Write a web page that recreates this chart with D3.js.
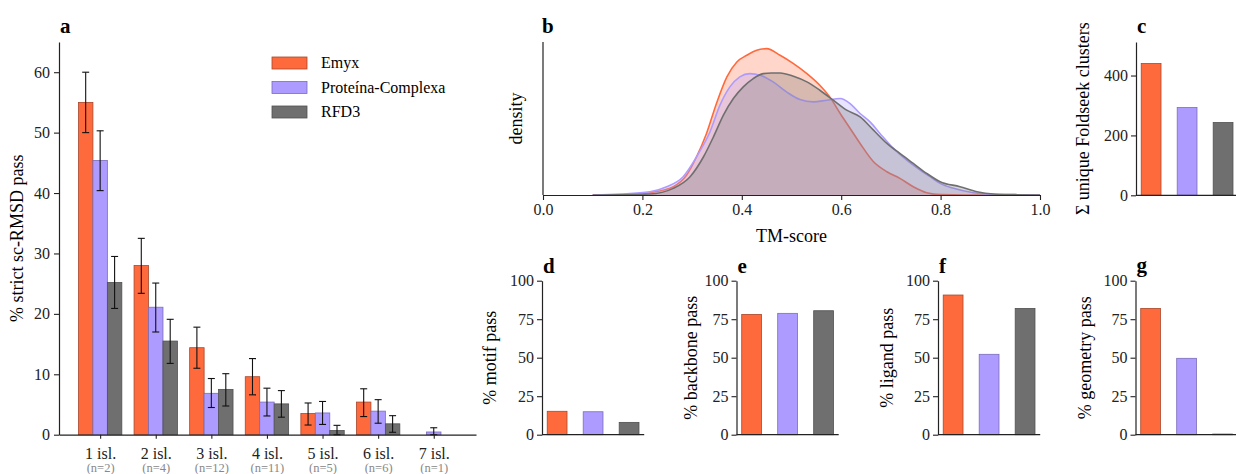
<!DOCTYPE html>
<html>
<head>
<meta charset="utf-8">
<script src="https://cdn.jsdelivr.net/npm/d3@7"></script>
<style>
  body { margin: 0; background: #fff; }
  svg, svg text { font-family: "Liberation Serif", "DejaVu Serif", "Noto Serif", "Times New Roman", serif !important; }
</style>
</head>
<body>
<svg id="chart" width="1236" height="474"></svg>
<script>
// ---- data ----
const methods = ['Emyx', 'Proteína-Complexa', 'RFD3'];
const islands = ['1 isl.', '2 isl.', '3 isl.', '4 isl.', '5 isl.', '6 isl.', '7 isl.'];
const islandCounts = ['(n=2)', '(n=4)', '(n=12)', '(n=11)', '(n=5)', '(n=6)', '(n=1)'];

const emyxPass = [55.0, 28.0, 14.4, 9.6, 3.5, 5.4, 0];
const emyxLow = [50.0, 23.4, 11.0, 6.6, 1.6, 3.0, 0];
const emyxHigh = [60.0, 32.5, 17.8, 12.6, 5.25, 7.6, 0];
const complexaPass = [45.4, 21.1, 6.85, 5.4, 3.6, 3.9, 0.45];
const complexaLow = [40.4, 17.0, 4.5, 3.1, 1.7, 1.9, 0];
const complexaHigh = [50.3, 25.1, 9.3, 7.7, 5.5, 5.8, 1.15];
const rfd3Pass = [25.2, 15.5, 7.5, 5.1, 0.7, 1.8, 0];
const rfd3Low = [20.9, 11.8, 4.75, 2.9, 0, 0.4, 0];
const rfd3High = [29.5, 19.1, 10.1, 7.3, 1.55, 3.15, 0];

// TM-score density curves
const emyxTM = [0.1, 0.15, 0.2, 0.215, 0.262, 0.289, 0.309, 0.329, 0.349, 0.37, 0.39, 0.41, 0.43, 0.45, 0.477, 0.504, 0.531, 0.557, 0.577, 0.598, 0.618, 0.638, 0.665, 0.692, 0.718, 0.745, 0.772, 0.8, 0.85, 1.0];
const emyxDensity = [0, 0, 0.03, 0.07, 0.25, 0.6, 1.15, 1.85, 2.75, 3.55, 4.0, 4.2, 4.35, 4.4, 4.2, 3.95, 3.65, 3.3, 2.95, 2.45, 2.0, 1.55, 1.0, 0.7, 0.5, 0.25, 0.07, 0.01, 0, 0];
const complexaTM = [0.1, 0.155, 0.215, 0.249, 0.282, 0.309, 0.336, 0.356, 0.376, 0.396, 0.416, 0.437, 0.463, 0.49, 0.517, 0.544, 0.571, 0.598, 0.618, 0.638, 0.658, 0.678, 0.705, 0.732, 0.759, 0.779, 0.799, 0.826, 0.866, 0.906, 0.95, 1.0];
const complexaDensity = [0, 0.03, 0.1, 0.25, 0.55, 1.15, 1.9, 2.7, 3.25, 3.55, 3.65, 3.6, 3.4, 3.1, 2.87, 2.8, 2.85, 2.9, 2.75, 2.45, 2.2, 1.85, 1.4, 1.05, 0.75, 0.55, 0.35, 0.2, 0.07, 0.02, 0.01, 0];
const rfd3TM = [0.1, 0.215, 0.262, 0.296, 0.323, 0.343, 0.363, 0.383, 0.403, 0.423, 0.443, 0.46, 0.477, 0.504, 0.531, 0.557, 0.584, 0.611, 0.638, 0.665, 0.692, 0.718, 0.745, 0.772, 0.799, 0.839, 0.873, 0.906, 0.95, 1.0];
const rfd3Density = [0, 0.03, 0.2, 0.55, 1.15, 1.75, 2.4, 2.9, 3.25, 3.5, 3.65, 3.67, 3.67, 3.57, 3.4, 3.15, 2.85, 2.55, 2.35, 1.95, 1.55, 1.25, 0.95, 0.65, 0.4, 0.25, 0.1, 0.03, 0.01, 0];

const foldseekClusters = [440, 293, 243];
const motifPass = [15.2, 14.9, 8.0];
const backbonePass = [78.1, 78.8, 80.5];
const ligandPass = [90.7, 52.2, 82.0];
const geometryPass = [82.0, 49.6, 0.4];

// ---- styles ----
const fills = ['#ff6a3d', '#ad9bff', '#6f6f6f'];
const edges = ['#a8482c', '#7c6cba', '#505050'];
const axisColor = '#222';

const svg = d3.select('#chart');

const panelLetter = (x, y, t) => svg.append('text')
  .attr('x', x).attr('y', y)
  .style('font-size', '21px').style('font-weight', 'bold')
  .text(t);

const yLabel = (x, y, t) => svg.append('text')
  .attr('transform', `translate(${x},${y}) rotate(-90)`)
  .attr('text-anchor', 'middle')
  .style('font-size', '18px')
  .text(t);

const styleAxis = g => {
  g.attr('font-family', null);
  g.select('.domain').attr('stroke', axisColor).attr('stroke-width', 1.2);
  g.selectAll('.tick line').attr('stroke', axisColor).attr('stroke-width', 1.1);
  g.selectAll('.tick text').style('font-size', '16px').attr('fill', '#222');
};

// 1. Panel a: strict sc-RMSD pass by island count
(() => {
  const left = 59, right = 476, top = 42, bottom = 434.7;
  const x = d3.scaleLinear().domain([-0.74, 6.76]).range([left, right]);
  const y = d3.scaleLinear().domain([0, 65]).range([bottom, top]);
  const bw = 0.26;

  const series = [
    { vals: emyxPass, lo: emyxLow, hi: emyxHigh },
    { vals: complexaPass, lo: complexaLow, hi: complexaHigh },
    { vals: rfd3Pass, lo: rfd3Low, hi: rfd3High },
  ];

  series.forEach((s, k) => {
    const off = (k - 1) * bw;
    svg.append('g').selectAll('rect')
      .data(s.vals)
      .enter().append('rect')
      .attr('x', (d, i) => x(i + off - bw / 2))
      .attr('y', d => y(d))
      .attr('width', x(bw) - x(0))
      .attr('height', d => y(0) - y(d))
      .attr('fill', fills[k])
      .attr('stroke', edges[k])
      .attr('stroke-width', 0.8);
  });

  // error bars
  series.forEach((s, k) => {
    const off = (k - 1) * bw;
    const g = svg.append('g').attr('stroke', '#111').attr('stroke-width', 1.1);
    s.vals.forEach((v, i) => {
      if (s.hi[i] === 0 && s.lo[i] === 0) return;
      const cx = x(i + off);
      g.append('line').attr('x1', cx).attr('x2', cx).attr('y1', y(s.lo[i])).attr('y2', y(s.hi[i]));
      g.append('line').attr('x1', cx - 3.5).attr('x2', cx + 3.5).attr('y1', y(s.lo[i])).attr('y2', y(s.lo[i]));
      g.append('line').attr('x1', cx - 3.5).attr('x2', cx + 3.5).attr('y1', y(s.hi[i])).attr('y2', y(s.hi[i]));
    });
  });

  const ya = svg.append('g')
    .attr('transform', `translate(${left},0)`)
    .call(d3.axisLeft(y).tickValues([0, 10, 20, 30, 40, 50, 60]).tickSize(5).tickPadding(4).tickSizeOuter(0));
  styleAxis(ya);

  const xa = svg.append('g')
    .attr('transform', `translate(0,${bottom})`)
    .call(d3.axisBottom(x).tickValues(d3.range(islands.length)).tickSize(4).tickSizeOuter(0)
      .tickFormat(i => islands[i]).tickPadding(5));
  styleAxis(xa);
  xa.selectAll('.tick text').attr('dy', '0.95em');
  xa.selectAll('.tick').append('text')
    .attr('y', 37)
    .attr('fill', '#888')
    .style('font-size', '12.5px')
    .text(i => islandCounts[i]);

  yLabel(23, (top + bottom) / 2, '% strict sc-RMSD pass');
  panelLetter(60, 33, 'a');

  // legend
  const lg = svg.append('g').selectAll('g')
    .data(methods)
    .enter().append('g')
    .attr('transform', (d, i) => `translate(272,${63 + i * 24.5})`);
  lg.append('rect')
    .attr('y', -6).attr('width', 35).attr('height', 12)
    .attr('fill', (d, i) => fills[i])
    .attr('stroke', (d, i) => edges[i]).attr('stroke-width', 0.8);
  lg.append('text')
    .attr('x', 49).attr('y', 5)
    .style('font-size', '16px')
    .text(d => d);
})();

// 2. Panel b: TM-score density
(() => {
  const left = 543, right = 1040, top = 42, bottom = 195;
  const x = d3.scaleLinear().domain([0, 1]).range([left, right]);
  const y = d3.scaleLinear().domain([0, 4.6]).range([bottom, top]);

  const curves = [
    { tm: emyxTM, den: emyxDensity },
    { tm: complexaTM, den: complexaDensity },
    { tm: rfd3TM, den: rfd3Density },
  ];

  const area = d3.area().curve(d3.curveMonotoneX)
    .x(d => x(d[0])).y0(y(0)).y1(d => y(d[1]));
  const line = d3.line().curve(d3.curveMonotoneX)
    .x(d => x(d[0])).y(d => y(d[1]));

  curves.forEach((c, k) => {
    const pts = c.tm.map((t, i) => [t, c.den[i]]);
    svg.append('path').datum(pts)
      .attr('d', area)
      .attr('fill', fills[k])
      .attr('fill-opacity', 0.28);
    svg.append('path').datum(pts)
      .attr('d', line)
      .attr('fill', 'none')
      .attr('stroke', fills[k])
      .attr('stroke-width', 1.6);
  });

  const xa = svg.append('g')
    .attr('transform', `translate(0,${bottom})`)
    .call(d3.axisBottom(x).tickValues([0, 0.2, 0.4, 0.6, 0.8, 1.0]).tickFormat(d3.format('.1f'))
      .tickSize(5).tickPadding(4).tickSizeOuter(0));
  styleAxis(xa);

  svg.append('line')
    .attr('x1', left).attr('x2', left).attr('y1', top).attr('y2', bottom)
    .attr('stroke', axisColor).attr('stroke-width', 1.2);

  svg.append('text')
    .attr('x', (left + right) / 2).attr('y', 242)
    .attr('text-anchor', 'middle')
    .style('font-size', '18px')
    .text('TM-score');
  yLabel(522, (top + bottom) / 2, 'density');
  panelLetter(542, 33, 'b');
})();

// 3. Small bar panels c-g
const drawBars = (opt) => {
  const x = d3.scaleLinear().domain([-0.42, 2.42]).range([opt.left, opt.left + 102.2]);
  const y = d3.scaleLinear().domain([0, opt.max]).range([opt.bottom, opt.top]);
  const bw = 0.55;

  svg.append('g').selectAll('rect')
    .data(opt.values)
    .enter().append('rect')
    .attr('x', (d, i) => x(i - bw / 2))
    .attr('y', d => y(d))
    .attr('width', x(bw) - x(0))
    .attr('height', d => y(0) - y(d))
    .attr('fill', (d, i) => fills[i])
    .attr('stroke', (d, i) => edges[i])
    .attr('stroke-width', 0.8);

  const ya = svg.append('g')
    .attr('transform', `translate(${opt.left},0)`)
    .call(d3.axisLeft(y).tickValues(opt.ticks).tickSize(5).tickPadding(3).tickSizeOuter(0));
  styleAxis(ya);

  svg.append('line')
    .attr('x1', opt.left).attr('x2', opt.left + 102.2)
    .attr('y1', opt.bottom).attr('y2', opt.bottom)
    .attr('stroke', axisColor).attr('stroke-width', 1.2);

  yLabel(opt.labelX, (opt.top + opt.bottom) / 2, opt.label);
  panelLetter(opt.left + 1, opt.letterY, opt.letter);
};

const pctTicks = [0, 25, 50, 75, 100];
drawBars({ left: 1136, top: 42, bottom: 195.3, max: 512, ticks: [0, 200, 400],
  values: foldseekClusters, label: 'Σ unique Foldseek clusters', labelX: 1089, letter: 'c', letterY: 33 });
drawBars({ left: 542, top: 280.7, bottom: 434.7, max: 100, ticks: pctTicks,
  values: motifPass, label: '% motif pass', labelX: 496, letter: 'd', letterY: 273 });
drawBars({ left: 736.5, top: 280.7, bottom: 434.7, max: 100, ticks: pctTicks,
  values: backbonePass, label: '% backbone pass', labelX: 697, letter: 'e', letterY: 273 });
drawBars({ left: 938, top: 280.7, bottom: 434.7, max: 100, ticks: pctTicks,
  values: ligandPass, label: '% ligand pass', labelX: 893, letter: 'f', letterY: 273 });
drawBars({ left: 1135.5, top: 280.7, bottom: 434.7, max: 100, ticks: pctTicks,
  values: geometryPass, label: '% geometry pass', labelX: 1091, letter: 'g', letterY: 272 });
</script>
</body>
</html>
